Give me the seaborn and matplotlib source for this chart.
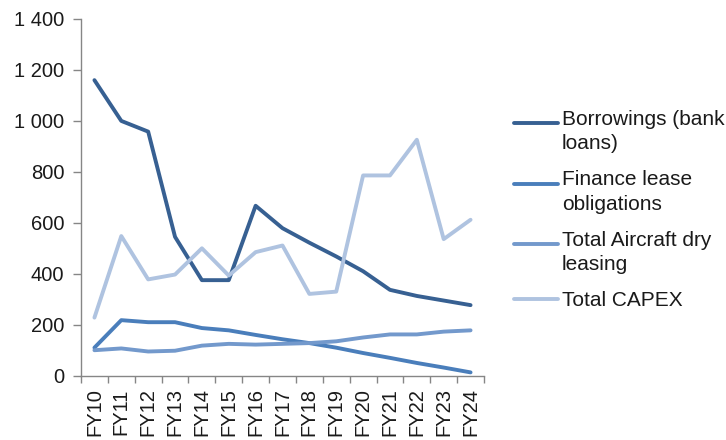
import matplotlib
matplotlib.use("Agg")
import matplotlib.pyplot as plt
from matplotlib.legend_handler import HandlerLine2D
from matplotlib.ticker import FixedLocator, FuncFormatter
import numpy as np
import pandas as pd
import seaborn as sns

years = ["FY10", "FY11", "FY12", "FY13", "FY14", "FY15", "FY16", "FY17",
         "FY18", "FY19", "FY20", "FY21", "FY22", "FY23", "FY24"]
borrowings = [1160, 1000, 958, 545, 375, 375, 667, 579, 522, 468, 410, 337, 313, 295, 277]
finance_lease = [110, 218, 210, 210, 187, 178, 160, 143, 128, 110, 89, 70, 50, 32, 13]
aircraft_dry = [100, 107, 95, 98, 118, 125, 122, 125, 128, 135, 150, 162, 162, 173, 178]
capex = [228, 548, 378, 397, 500, 393, 485, 511, 321, 330, 786, 786, 926, 536, 612]

series_names = ["Borrowings (bank\nloans)", "Finance lease\nobligations",
                "Total Aircraft dry\nleasing", "Total CAPEX"]
colors = ["#376092", "#4A7EBB", "#7399CC", "#AFC3E0"]

frames = []
for name, vals in zip(series_names, [borrowings, finance_lease, aircraft_dry, capex]):
    frames.append(pd.DataFrame({"x": np.arange(len(years)), "value": vals, "series": name}))
df = pd.concat(frames, ignore_index=True)

sns.set_theme(style="white")
plt.rcParams["font.family"] = ["Liberation Sans", "DejaVu Sans"]

fig = plt.figure(figsize=(7.26, 4.4), dpi=100)
ax = fig.add_axes([81 / 726, 1 - 375.7 / 440, (484 - 81) / 726, (375.7 - 19) / 440])

sns.lineplot(data=df, x="x", y="value", hue="series", palette=colors,
             hue_order=series_names, linewidth=2.8, ax=ax, legend=False,
             solid_capstyle="round", solid_joinstyle="round")

ax.set_xlim(-0.5, len(years) - 0.5)
ax.set_ylim(0, 1400)
ax.set_yticks(np.arange(0, 1401, 200))
ax.yaxis.set_major_formatter(FuncFormatter(lambda v, p: f"{int(v):,}".replace(",", " ")))
ax.set_xticks(np.arange(len(years)))
ax.set_xticklabels(years, rotation=90)
ax.xaxis.set_minor_locator(FixedLocator(np.arange(-0.5, len(years), 1.0)))
ax.set_xlabel("")
ax.set_ylabel("")

for side in ["top", "right"]:
    ax.spines[side].set_visible(False)
for side in ["left", "bottom"]:
    ax.spines[side].set_color("#868686")
    ax.spines[side].set_linewidth(1.0)

ax.tick_params(axis="y", which="major", left=True, length=6, width=1, color="#868686",
               labelsize=14.5, labelcolor="#1a1a1a", pad=6)
ax.tick_params(axis="x", which="major", bottom=False, length=0, labelsize=14.5,
               labelcolor="#1a1a1a", pad=9)
ax.tick_params(axis="x", which="minor", bottom=True, length=5, width=1, color="#868686")


class FirstLineHandler(HandlerLine2D):
    """Line handle aligned with the first row of a wrapped label."""
    def __init__(self, shift=0.0, **kw):
        super().__init__(**kw)
        self.shift = shift

    def create_artists(self, legend, orig_handle, xdescent, ydescent, width,
                       height, fontsize, trans):
        return super().create_artists(legend, orig_handle, xdescent,
                                      ydescent - self.shift, width, height,
                                      fontsize, trans)


legend_size = 15
label_linespacing = 1.35
handles = []
handler_map = {}
for name, c in zip(series_names, colors):
    h = plt.Line2D([], [], color=c, linewidth=2.8, solid_capstyle="round")
    handles.append(h)
    n_lines = name.count("\n") + 1
    handler_map[h] = FirstLineHandler(
        shift=(n_lines - 1) * 0.5 * legend_size * 1.2 * label_linespacing)

leg = fig.legend(handles, series_names, handler_map=handler_map,
                 loc="center left", bbox_to_anchor=(514 / 726, 1 - 210 / 440),
                 frameon=False, fontsize=legend_size, handlelength=2.1,
                 handletextpad=0.2, labelspacing=0.82, borderpad=0, borderaxespad=0)
for t in leg.get_texts():
    t.set_color("#1a1a1a")
    t.set_linespacing(label_linespacing)

fig.savefig("out.png", dpi=100)
